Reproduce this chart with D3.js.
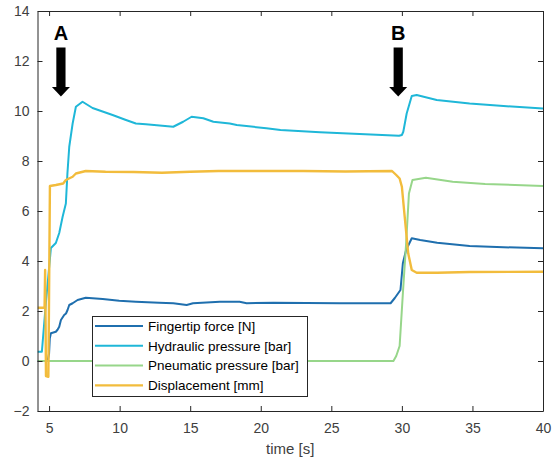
<!DOCTYPE html>
<html>
<head>
<meta charset="utf-8">
<script src="https://cdn.jsdelivr.net/npm/d3@7"></script>
<style>
  html, body { margin: 0; padding: 0; background: #fff; }
  svg { display: block; font-family: "Liberation Sans", Arial, sans-serif; }
</style>
</head>
<body>
<svg id="chart" width="558" height="461"></svg>
<script>
// ---------- data ----------
const forceT = [4.18, 4.9, 5.0, 5.05, 5.13, 5.48, 5.6, 5.72, 5.84, 6.07, 6.2, 6.31, 6.43, 6.67, 7.02, 7.6, 8.8, 9.97, 11.15, 12.8, 13.8, 14.75, 15.2, 17.1, 18.5, 19.0, 20.9, 25.6, 29.2, 29.5, 29.9, 30.07, 30.3, 30.7, 31.3, 32.5, 34.8, 37.2, 40];
const forceV = [0.0, 0.0, 0.3, 0.9, 1.11, 1.17, 1.25, 1.37, 1.64, 1.84, 1.9, 2.04, 2.24, 2.31, 2.44, 2.53, 2.48, 2.41, 2.37, 2.33, 2.31, 2.24, 2.31, 2.37, 2.37, 2.31, 2.33, 2.31, 2.31, 2.52, 2.84, 3.91, 4.44, 4.91, 4.84, 4.73, 4.6, 4.55, 4.51];

const hydT = [4.18, 4.49, 4.77, 5.13, 5.48, 5.72, 5.96, 6.19, 6.3, 6.43, 6.67, 6.9, 7.37, 8.08, 9.5, 10.45, 11.15, 11.86, 13.8, 14.5, 15.1, 15.93, 16.64, 17.8, 18.3, 20.4, 21.4, 24.2, 27.0, 29.8, 30.0, 30.1, 30.34, 30.7, 31.05, 32.47, 34.8, 37.2, 40];
const hydV = [0.37, 0.37, 2.3, 4.52, 4.72, 5.12, 5.77, 6.3, 7.5, 8.57, 9.5, 10.17, 10.37, 10.12, 9.84, 9.64, 9.5, 9.47, 9.37, 9.57, 9.77, 9.71, 9.57, 9.5, 9.44, 9.31, 9.24, 9.15, 9.08, 9.01, 9.04, 9.17, 9.9, 10.6, 10.64, 10.44, 10.3, 10.2, 10.1];

const pneuT = [4.18, 29.4, 29.6, 29.84, 30.07, 30.3, 30.5, 30.75, 31.7, 33.6, 35.9, 40];
const pneuV = [0.0, 0.0, 0.2, 0.6, 2.7, 4.7, 6.7, 7.24, 7.33, 7.17, 7.08, 7.0];

const dispT = [4.18, 4.68, 4.72, 4.74, 4.78, 4.95, 4.99, 5.06, 5.48, 6.0, 6.19, 6.67, 6.9, 7.6, 9, 11, 13, 15, 17, 20, 23, 26, 29.3, 29.6, 29.84, 30.0, 30.2, 30.45, 30.7, 31.05, 32.5, 34.8, 40];
const dispV = [2.13, 2.13, 3.64, 2.5, -0.6, -0.63, 2.0, 7.0, 7.04, 7.1, 7.24, 7.37, 7.5, 7.6, 7.57, 7.56, 7.53, 7.57, 7.6, 7.6, 7.6, 7.58, 7.6, 7.44, 7.3, 6.97, 5.77, 4.3, 3.64, 3.53, 3.53, 3.56, 3.57];

const seriesNames = ["Fingertip force [N]", "Hydraulic pressure [bar]", "Pneumatic pressure [bar]", "Displacement [mm]"];
const seriesColors = ["#1f6fae", "#1fb7d8", "#97d68a", "#f2bc3c"];

const xTicks = [5, 10, 15, 20, 25, 30, 35, 40];
const yTicks = [-2, 0, 2, 4, 6, 8, 10, 12, 14];
const xDomain = [4.18, 40];
const yDomain = [-2, 14];

const arrowT = [5.84, 29.74];
const arrowLabels = ["A", "B"];
const xLabel = "time [s]";

// ---------- layout ----------
const L = 37.5, R = 543, T = 11, B = 411;
const svg = d3.select("#chart");
const x = d3.scaleLinear().domain(xDomain).range([L, R]);
const y = d3.scaleLinear().domain(yDomain).range([B, T]);

const series = [
  { t: forceT, v: forceV },
  { t: hydT, v: hydV },
  { t: pneuT, v: pneuV },
  { t: dispT, v: dispV }
].map((s, i) => ({ name: seriesNames[i], color: seriesColors[i], pts: s.t.map((t, j) => [t, s.v[j]]) }));

const line = d3.line().x(d => x(d[0])).y(d => y(d[1]));

const plot = svg.append("g");
plot.append("defs").append("clipPath").attr("id", "clip")
  .append("rect").attr("x", L).attr("y", T).attr("width", R - L).attr("height", B - T);

plot.append("g").attr("clip-path", "url(#clip)")
  .selectAll("path").data(series).join("path")
  .attr("d", d => line(d.pts))
  .attr("fill", "none")
  .attr("stroke", d => d.color)
  .attr("stroke-width", (d, i) => i === 3 ? 2.4 : 2)
  .attr("stroke-linejoin", "round");

// axes
const axisColor = "#262626";
const gx = svg.append("g").attr("transform", `translate(0,${B})`)
  .call(d3.axisBottom(x).tickValues(xTicks).tickSizeInner(-5).tickSizeOuter(0).tickPadding(12));
const gxTop = svg.append("g").attr("transform", `translate(0,${T})`)
  .call(d3.axisTop(x).tickValues(xTicks).tickSizeInner(-5).tickSizeOuter(0).tickFormat(""));
const gy = svg.append("g").attr("transform", `translate(${L},0)`)
  .call(d3.axisLeft(y).tickValues(yTicks).tickSizeInner(-5).tickSizeOuter(0).tickPadding(8));
const gyR = svg.append("g").attr("transform", `translate(${R},0)`)
  .call(d3.axisRight(y).tickValues(yTicks).tickSizeInner(-5).tickSizeOuter(0).tickFormat(""));

[gx, gxTop, gy, gyR].forEach(g => {
  g.select(".domain").attr("stroke", axisColor).attr("stroke-width", 1);
  g.selectAll(".tick line").attr("stroke", axisColor);
  g.selectAll(".tick text").attr("fill", "#404040").style("font-size", "14px")
    .style("font-family", '"Liberation Sans", Arial, sans-serif');
});

svg.append("text").attr("x", (L + R) / 2).attr("y", 454)
  .attr("text-anchor", "middle").attr("fill", "#404040")
  .style("font-size", "15px").text(xLabel);

// arrows A and B
arrowT.forEach((t, i) => {
  const cx = x(t);
  svg.append("text").attr("x", cx).attr("y", 39.5).attr("text-anchor", "middle")
    .style("font-size", "20px").style("font-weight", "bold").attr("fill", "#000")
    .text(arrowLabels[i]);
  svg.append("rect").attr("x", cx - 4.6).attr("y", 47.5).attr("width", 9.2).attr("height", 40).attr("fill", "#000");
  svg.append("path").attr("d", `M${cx - 9},87 L${cx + 9},87 L${cx},96.5 Z`).attr("fill", "#000");
});

// legend
const lg = svg.append("g");
lg.append("rect").attr("x", 92.5).attr("y", 316.5).attr("width", 215).attr("height", 80)
  .attr("fill", "#fff").attr("stroke", axisColor).attr("stroke-width", 1);
series.forEach((s, i) => {
  const yy = 326 + i * 19.8;
  lg.append("line").attr("x1", 95).attr("x2", 143).attr("y1", yy).attr("y2", yy)
    .attr("stroke", s.color).attr("stroke-width", i === 3 ? 2.4 : 2);
  lg.append("text").attr("x", 148).attr("y", yy + 4.8).attr("fill", "#000")
    .style("font-size", "13.5px").text(s.name);
});
</script>
</body>
</html>
